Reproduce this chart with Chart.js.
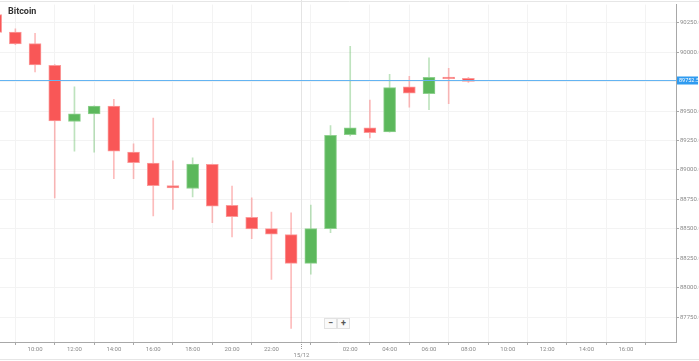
<!DOCTYPE html>
<html>
<head>
<meta charset="utf-8">
<script src="https://cdn.jsdelivr.net/npm/chart.js@4/dist/chart.umd.min.js"></script>
<style>
  html, body { margin: 0; padding: 0; background: #fff; }
  #wrap { position: relative; width: 699px; height: 361px; }
  #title { position: absolute; left: 8px; top: 6px; font: bold 9px Roboto, sans-serif; color: #333; }
  .zbtn { position: absolute; top: 318px; width: 11px; height: 9px; border: 1px solid #e2e2e2; background: #fafafa;
          font: bold 9px/9px Roboto, sans-serif; color: #555; text-align: center; }
</style>
</head>
<body>
<div id="wrap">
  <canvas id="c" width="699" height="361"></canvas>
  <div id="title">Bitcoin</div>
  <div class="zbtn" style="left:324px">&minus;</div>
  <div class="zbtn" style="left:337px">+</div>
</div>
<script>
// hourly candles, hour counted from 00:00 on 14/12
var hours  = [8, 9, 10, 11, 12, 13, 14, 15, 16, 17, 18, 19, 20, 21, 22, 23, 24, 25, 26, 27, 28, 29, 30, 31, 32];
var opens  = [90320, 90171, 90073, 89890, 89412, 89477, 89542, 89151, 89058, 88867, 88842, 89047, 88699, 88598, 88501, 88451, 88206, 88501, 89300, 89357, 89323, 89707, 89648, 89789, 89778];
var highs  = [90350, 90200, 90160, 89895, 89707, 89545, 89601, 89222, 89441, 89078, 89104, 89050, 88862, 88763, 88642, 88636, 88701, 89376, 90051, 89593, 89812, 89795, 89952, 89863, 89787];
var lows   = [90150, 90065, 89834, 88763, 89159, 89151, 88926, 88926, 88609, 88665, 88771, 88552, 88431, 88415, 88069, 87653, 88114, 88468, 89290, 89272, 89320, 89534, 89513, 89564, 89744];
var closes = [90169, 90070, 89893, 89416, 89477, 89542, 89159, 89061, 88867, 88847, 89050, 88693, 88603, 88499, 88454, 88206, 88501, 89294, 89357, 89317, 89699, 89652, 89787, 89775, 89752.5];

var xTicks = [10, 12, 14, 16, 18, 20, 22, 26, 28, 30, 32, 34, 36, 38, 40];
var yTicks = [87750, 88000, 88250, 88500, 88750, 89000, 89250, 89500, 89750, 90000, 90250];
var dayBreak = 23.5, dayLabel = '15/12';

var col = {
  up: '#5cb85c', upEdge: '#8fd08f', upWick: 'rgba(92,184,92,0.4)',
  down: '#f95757', downEdge: '#fb9a9a', downWick: 'rgba(249,87,87,0.4)',
  grid: '#f3f3f3', axis: '#a8a8a8', tick: '#8a8a8a', price: '#2f9bf0', priceLine: '#64b4f2',
};

function isUp(i) { return closes[i] >= opens[i]; }
function pad(n) { n = n % 24; return (n < 10 ? '0' : '') + n + ':00'; }

var extras = {
  id: 'extras',
  beforeDatasetsDraw: function (chart) {
    var ctx = chart.ctx, a = chart.chartArea, x = chart.scales.x;
    var px = Math.round(x.getPixelForValue(dayBreak)) + 0.5;
    ctx.save();
    ctx.strokeStyle = '#e4e4e4';
    ctx.lineWidth = 1;
    ctx.beginPath(); ctx.moveTo(px, 0); ctx.lineTo(px, a.bottom); ctx.stroke();
    ctx.restore();
  },
  afterDraw: function (chart) {
    var ctx = chart.ctx, a = chart.chartArea, x = chart.scales.x, y = chart.scales.y;
    var last = closes[closes.length - 1];
    var py = Math.round(y.getPixelForValue(last)) - 0.5;
    ctx.save();
    ctx.lineWidth = 1;
    // frame lines
    ctx.strokeStyle = '#e6e6e6';
    ctx.beginPath(); ctx.moveTo(0, 1.5); ctx.lineTo(699, 1.5); ctx.stroke();
    ctx.beginPath(); ctx.moveTo(0, 359.5); ctx.lineTo(699, 359.5); ctx.stroke();
    // price line + label
    ctx.strokeStyle = col.priceLine;
    ctx.beginPath(); ctx.moveTo(0, py); ctx.lineTo(a.right, py); ctx.stroke();
    ctx.fillStyle = col.price;
    ctx.fillRect(a.right + 1, py - 4, 21, 8);
    ctx.fillStyle = '#fff';
    ctx.font = '5.5px Roboto, sans-serif';
    ctx.textBaseline = 'middle';
    ctx.fillText(last.toFixed(1), a.right + 3, py + 0.5);
    // day separator tick + label
    var px = Math.round(x.getPixelForValue(dayBreak)) + 0.5;
    ctx.strokeStyle = '#999';
    ctx.setLineDash([1, 1]);
    ctx.beginPath(); ctx.moveTo(px, a.bottom); ctx.lineTo(px, a.bottom + 8); ctx.stroke();
    ctx.setLineDash([]);
    ctx.fillStyle = col.tick;
    ctx.font = '6px Roboto, sans-serif';
    ctx.textAlign = 'center';
    ctx.fillText(dayLabel, px, a.bottom + 13);
    ctx.restore();
  }
};

new Chart(document.getElementById('c'), {
  type: 'bar',
  data: {
    datasets: [
      {
        label: 'body', order: 1, grouped: false, barThickness: 12, borderWidth: 1, borderSkipped: false,
        data: hours.map(function (h, i) { return { x: h, y: [opens[i], closes[i]] }; }),
        backgroundColor: function (c) { return isUp(c.dataIndex) ? col.up : col.down; },
        borderColor: function (c) { return isUp(c.dataIndex) ? col.upEdge : col.downEdge; },
      },
      {
        label: 'wick', order: 2, grouped: false, barThickness: 1, borderWidth: 0,
        data: hours.map(function (h, i) { return { x: h, y: [lows[i], highs[i]] }; }),
        backgroundColor: function (c) { return isUp(c.dataIndex) ? col.upWick : col.downWick; },
      },
    ],
  },
  options: {
    responsive: false, animation: false,
    layout: { padding: 0 },
    plugins: { legend: { display: false }, tooltip: { enabled: false } },
    scales: {
      x: {
        type: 'linear', offset: false, min: 8.22, max: 42.54,
        afterBuildTicks: function (s) { s.ticks = xTicks.map(function (v) { return { value: v }; }); },
        afterFit: function (s) { s.height = 19; },
        grid: { color: col.grid, tickColor: col.axis, tickLength: 3 },
        border: { color: col.axis },
        ticks: { color: col.tick, font: { size: 6, family: 'Roboto' }, padding: 1, maxRotation: 0, autoSkip: false,
          callback: function (v) { return pad(v); } },
      },
      y: {
        position: 'right', min: 87538, max: 90405,
        afterBuildTicks: function (s) { s.ticks = yTicks.map(function (v) { return { value: v }; }); },
        afterFit: function (s) { s.width = 23; },
        grid: { color: col.grid, tickColor: col.axis, tickLength: 3 },
        border: { color: col.axis },
        ticks: { color: col.tick, font: { size: 6, family: 'Roboto' }, padding: 1,
          callback: function (v) { return v.toFixed(1); } },
      },
    },
  },
  plugins: [extras],
});
</script>
</body>
</html>
